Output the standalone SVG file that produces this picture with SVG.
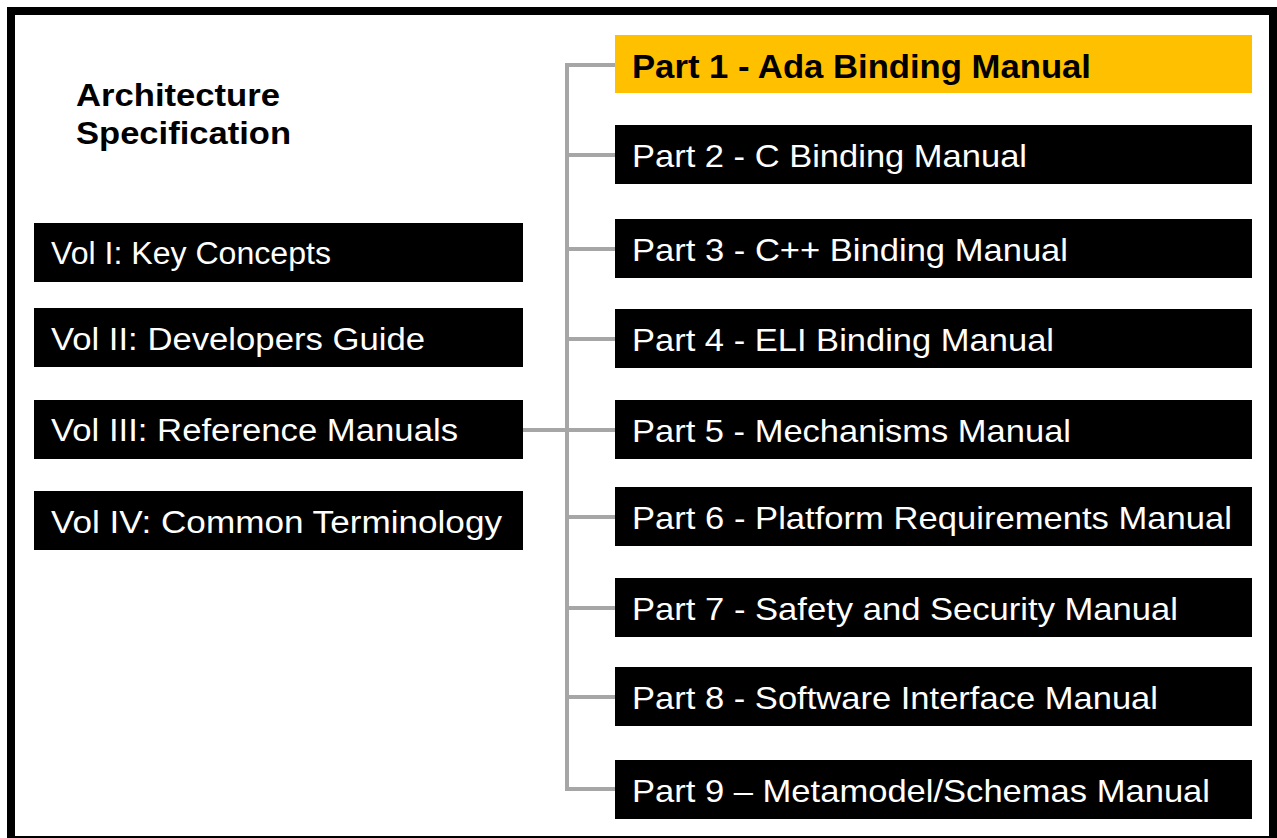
<svg xmlns="http://www.w3.org/2000/svg" width="1277" height="838" viewBox="0 0 1277 838">
<style>
.box{fill:#000}
.hl{fill:#FFC000}
.t{font-family:"Liberation Sans",Arial,sans-serif;fill:#fff;font-size:32px}
.v{font-family:"Liberation Sans",Arial,sans-serif;fill:#fff;font-size:31px}
.b{font-family:"Liberation Sans",Arial,sans-serif;fill:#000;font-weight:bold}
.c{stroke:#a6a6a6;stroke-width:4;fill:none}
</style>
<rect x="0" y="0" width="1277" height="838" fill="#fff"/>
<rect x="11" y="11" width="1262" height="829" fill="none" stroke="#000" stroke-width="8"/>
<g id="title"><text class="b" font-size="31" x="76" y="105.5" textLength="204" lengthAdjust="spacingAndGlyphs">Architecture</text><text class="b" font-size="31" x="76" y="144" textLength="215" lengthAdjust="spacingAndGlyphs">Specification</text></g>
<g id="connectors">
<path class="c" d="M615,65 H567 V789 H615 M567,155 H615 M567,249 H615 M567,339 H615 M523,430 H615 M567,517 H615 M567,608 H615 M567,697 H615"/>
</g>
<g id="vol1"><rect class="box" x="34" y="223" width="489" height="59"/><text class="v" font-size="30" x="51" y="263.5" textLength="280" lengthAdjust="spacingAndGlyphs">Vol I: Key Concepts</text></g>
<g id="vol2"><rect class="box" x="34" y="308" width="489" height="59"/><text class="v" x="51" y="349.5" textLength="374" lengthAdjust="spacingAndGlyphs">Vol II: Developers Guide</text></g>
<g id="vol3"><rect class="box" x="34" y="400" width="489" height="59"/><text class="v" x="51" y="441" textLength="407" lengthAdjust="spacingAndGlyphs">Vol III: Reference Manuals</text></g>
<g id="vol4"><rect class="box" x="34" y="491" width="489" height="59"/><text class="v" x="51" y="532.5" textLength="451" lengthAdjust="spacingAndGlyphs">Vol IV: Common Terminology</text></g>
<g id="part1"><rect class="hl" x="615" y="35" width="637" height="58"/><text class="b" font-size="33" x="632" y="77.7" textLength="459" lengthAdjust="spacingAndGlyphs">Part 1 - Ada Binding Manual</text></g>
<g id="part2"><rect class="box" x="615" y="125" width="637" height="59"/><text class="t" x="632" y="166.7" textLength="395" lengthAdjust="spacingAndGlyphs">Part 2 - C Binding Manual</text></g>
<g id="part3"><rect class="box" x="615" y="219" width="637" height="59"/><text class="t" x="632" y="260.7" textLength="436" lengthAdjust="spacingAndGlyphs">Part 3 - C++ Binding Manual</text></g>
<g id="part4"><rect class="box" x="615" y="309" width="637" height="59"/><text class="t" x="632" y="350.7" textLength="422" lengthAdjust="spacingAndGlyphs">Part 4 - ELI Binding Manual</text></g>
<g id="part5"><rect class="box" x="615" y="400" width="637" height="59"/><text class="t" x="632" y="441.7" textLength="439" lengthAdjust="spacingAndGlyphs">Part 5 - Mechanisms Manual</text></g>
<g id="part6"><rect class="box" x="615" y="487" width="637" height="59"/><text class="t" x="632" y="528.7" textLength="600" lengthAdjust="spacingAndGlyphs">Part 6 - Platform Requirements Manual</text></g>
<g id="part7"><rect class="box" x="615" y="578" width="637" height="59"/><text class="t" x="632" y="619.7" textLength="546" lengthAdjust="spacingAndGlyphs">Part 7 - Safety and Security Manual</text></g>
<g id="part8"><rect class="box" x="615" y="667" width="637" height="59"/><text class="t" x="632" y="708.7" textLength="526" lengthAdjust="spacingAndGlyphs">Part 8 - Software Interface Manual</text></g>
<g id="part9"><rect class="box" x="615" y="760" width="637" height="59"/><text class="t" x="632" y="801.7" textLength="578" lengthAdjust="spacingAndGlyphs">Part 9 – Metamodel/Schemas Manual</text></g>
</svg>
